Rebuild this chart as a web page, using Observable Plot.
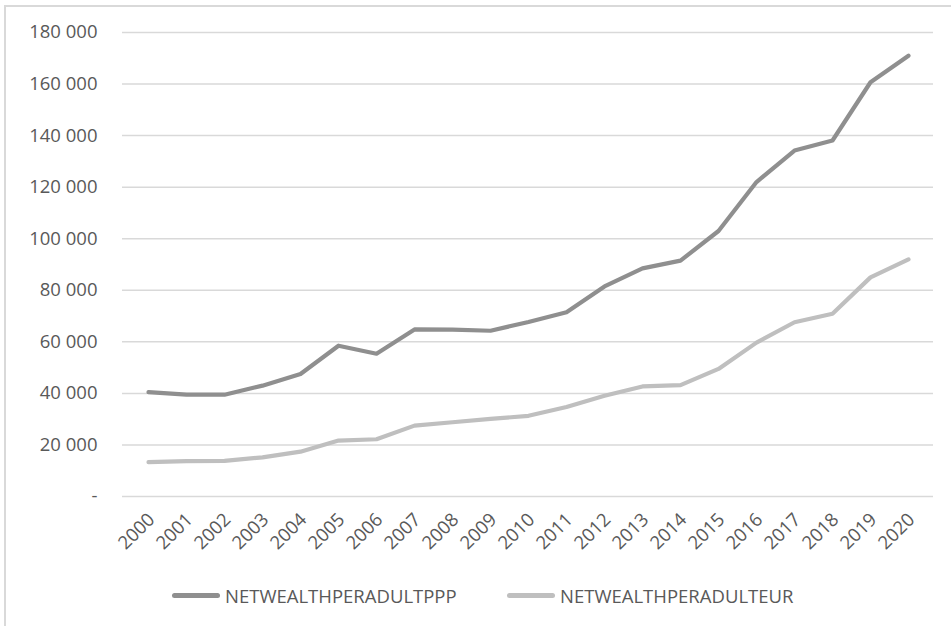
<!DOCTYPE html>
<html>
<head>
<meta charset="utf-8">
<script src="https://cdn.jsdelivr.net/npm/d3@7"></script>
<script src="https://cdn.jsdelivr.net/npm/@observablehq/plot@0.6"></script>
<style>
  html, body { margin: 0; padding: 0; background: #fff; }
  #wrap { position: relative; width: 951px; height: 626px; overflow: hidden; font-family: "Open Sans", sans-serif; }
  #frame { position: absolute; left: 4px; top: 5px; width: 960px; height: 640px; border-left: 2px solid #d9d9d9; border-top: 2px solid #d9d9d9; box-sizing: border-box; }
  #chart { position: absolute; left: 0; top: 0; }
  .legend { position: absolute; top: 583px; display: flex; align-items: center; font-size: 18.5px; color: #595959; }
  .legend .sw { width: 48px; height: 5px; border-radius: 3px; margin-right: 5px; }
</style>
</head>
<body>
<div id="wrap">
  <div id="frame"></div>
  <div id="chart"></div>
  <div class="legend" style="left:172px"><span class="sw" style="background:#8f8f8f"></span><span>NETWEALTHPERADULTPPP</span></div>
  <div class="legend" style="left:507px"><span class="sw" style="background:#bfbfbf"></span><span>NETWEALTHPERADULTEUR</span></div>
</div>
<script>
const years = [2000,2001,2002,2003,2004,2005,2006,2007,2008,2009,2010,2011,2012,2013,2014,2015,2016,2017,2018,2019,2020];
const pppValues = [40500,39500,39500,43000,47500,58500,55400,64800,64700,64300,67700,71500,81500,88500,91500,103000,122000,134200,138100,160700,171000];
const eurValues = [13300,13700,13800,15200,17400,21700,22200,27500,28800,30100,31300,34700,39100,42700,43200,49500,59700,67600,70900,85000,92000];
const yTicks = [0,20000,40000,60000,80000,100000,120000,140000,160000,180000];
const seriesNames = ["NETWEALTHPERADULTPPP","NETWEALTHPERADULTEUR"];
const seriesColors = ["#8f8f8f","#bfbfbf"];

const rows = [];
years.forEach((yr, i) => {
  rows.push({year: yr, value: pppValues[i], series: seriesNames[0]});
  rows.push({year: yr, value: eurValues[i], series: seriesNames[1]});
});

const loc = d3.formatLocale({decimal: ".", thousands: " ", grouping: [3], currency: ["", ""]});
const fmt = loc.format(",");
const yFmt = d => d === 0 ? "-" : fmt(d);

const plot = Plot.plot({
  width: 951,
  height: 570,
  marginTop: 32,
  marginBottom: 74,
  marginLeft: 122,
  marginRight: 18,
  style: {fontFamily: "'Open Sans', sans-serif", fontSize: "18.5px", color: "#595959", background: "transparent"},
  x: {type: "point", domain: years, padding: 0.5},
  y: {domain: [0, 180000]},
  color: {domain: seriesNames, range: seriesColors},
  marks: [
    Plot.gridY(yTicks, {stroke: "#d9d9d9", strokeOpacity: 1, strokeWidth: 1.5}),
    Plot.axisY(yTicks, {tickSize: 0, tickPadding: 25, tickFormat: yFmt, label: null, fill: "#595959"}),
    Plot.axisX(years, {tickSize: 0, tickRotate: -45, tickPadding: 20, dx: 3, tickFormat: d => String(d), label: null, fill: "#595959"}),
    Plot.line(rows, {x: "year", y: "value", stroke: "series", z: "series", strokeWidth: 4.2, strokeLinecap: "round", strokeLinejoin: "round"})
  ]
});
document.getElementById("chart").appendChild(plot);
</script>
</body>
</html>
